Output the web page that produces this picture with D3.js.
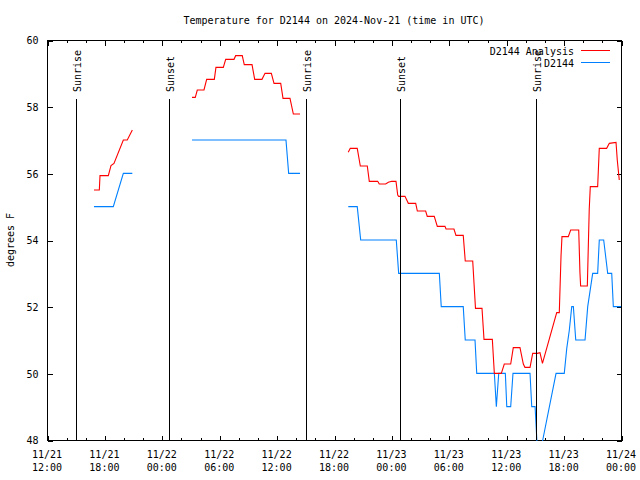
<!DOCTYPE html>
<html>
<head>
<meta charset="utf-8">
<script src="https://cdn.jsdelivr.net/npm/d3@7"></script>
<style>
  html, body { margin: 0; padding: 0; background: #fff; }
  svg { display: block; }
  text { font-family: "DejaVu Sans Mono", monospace; font-size: 10px; fill: #000; }
</style>
</head>
<body>
<svg id="chart" width="640" height="480"></svg>
<script>
// ---- DATA (time in hours since 2024-11-21 00:00 UTC, value in degrees F) ----
const chartTitle = "Temperature for D2144 on 2024-Nov-21 (time in UTC)";
const yLabel = "degrees F";
const seriesNames = ["D2144 Analysis", "D2144"];
const seriesColors = ["#ff0000", "#0080ff"];

// Analysis (red); null marks a gap
const analysisHours = [
  16.91, 17.47, 17.54, 18.41, 18.69, 19.00, 19.98, 20.39, 20.92, null,
  27.16, 27.50, 27.71, 28.41, 28.69, 29.49, 29.66, 30.43, 30.68, 31.55, 31.72, 32.41,
  32.62, 33.43, 33.71, 34.47, 34.79, 35.45, 35.73, 36.43, 36.67, 37.40, 37.75, 38.45, null,
  43.49, 43.70, 44.43, 44.75, 45.48, 45.69, 46.57, 46.73, 47.40, 47.68, 48.03, 48.48,
  48.66, 48.76, 49.42, 49.77, 50.54, 50.71, 51.58, 51.75, 52.48, 52.80, 53.60, 53.71,
  54.54, 54.75, 55.51, 55.72, 56.50, 56.79, 57.47, 57.68, 58.55, 58.76, 59.49, 59.80,
  60.47, 60.74, 61.44, 61.79, 61.96, 62.49, 62.77, 63.25, 63.53, 63.79, 65.28, 65.55,
  65.73, 65.83, 66.49, 66.74, 67.58, 67.71, 67.78, 68.48, 68.68, 68.79, 69.56, 69.73,
  70.50, 70.78, 71.48, 71.61, 71.82
];
const analysisValues = [
  55.5, 55.5, 55.93, 55.93, 56.23, 56.3, 57.0, 57.0, 57.3, null,
  58.28, 58.28, 58.5, 58.5, 58.82, 58.82, 59.18, 59.18, 59.42, 59.42, 59.53, 59.53,
  59.26, 59.26, 58.82, 58.82, 59.0, 59.0, 58.7, 58.7, 58.25, 58.25, 57.78, 57.78, null,
  56.63, 56.75, 56.75, 56.22, 56.22, 55.76, 55.76, 55.68, 55.68, 55.73, 55.76, 55.76,
  55.35, 55.31, 55.31, 55.1, 55.1, 54.87, 54.87, 54.71, 54.71, 54.41, 54.41, 54.33,
  54.33, 54.14, 54.14, 53.37, 53.37, 51.95, 51.95, 51.02, 51.02, 50.0, 50.0, 50.28,
  50.28, 50.77, 50.77, 50.28, 50.18, 50.18, 50.6, 50.6, 50.62, 50.3, 51.82, 51.82,
  53.52, 54.1, 54.1, 54.3, 54.3, 53.02, 52.62, 52.62, 54.92, 55.6, 55.6, 56.75,
  56.75, 56.9, 56.93, 56.4, 55.8
];

// Station observations (blue); null marks a gap
const stationHours = [
  16.91, 18.93, 19.98, 20.92, null,
  27.16, 36.98, 37.26, 38.45, null,
  43.49, 44.43, 44.79, 48.51, 48.76, 53.01, 53.21, 55.51, 55.72, 56.74, 56.92, 58.76,
  58.97, 59.22, 59.91, 60.06, 60.47, 60.71, 62.49, 62.67, 63.02, 63.33, 63.82, 65.21,
  66.07, 66.33, 66.60, 66.85, 67.02, 67.27, 68.24, 68.52, 69.04, 69.56, 69.73, 70.19,
  70.61, 71.03, 71.20, 72.00
];
const stationValues = [
  55.0, 55.0, 56.0, 56.0, null,
  57.0, 57.0, 56.0, 56.0, null,
  55.0, 55.0, 54.0, 54.0, 53.0, 53.0, 52.0, 52.0, 51.0, 51.0, 50.0, 50.0,
  49.0, 50.0, 50.0, 49.0, 49.0, 50.0, 50.0, 49.0, 49.0, 47.3, 48.0, 50.0,
  50.0, 50.75, 51.3, 52.0, 52.0, 51.0, 51.0, 52.0, 53.0, 53.0, 54.0, 54.0,
  53.0, 53.0, 52.0, 52.0
];

// Sun events
const sunHours = [15.03, 24.75, 39.07, 48.90, 63.11];
const sunLabels = ["Sunrise", "Sunset", "Sunrise", "Sunset", "Sunrise"];

// Axes
const xStartHour = 12, xEndHour = 72;
const yTicks = [48, 50, 52, 54, 56, 58, 60];

// ---- DRAW ----
const T0 = Date.UTC(2024, 10, 21, 0, 0);
const toDate = h => new Date(T0 + h * 3600e3);

const L = 47, R = 621, T = 40, B = 440;
const svg = d3.select("#chart");
svg.append("rect").attr("width", 640).attr("height", 480).attr("fill", "#fff");

const x = d3.scaleUtc().domain([toDate(xStartHour), toDate(xEndHour)]).range([L, R]);
const y = d3.scaleLinear().domain([48, 60]).range([B, T]);

const majors = d3.utcHour.every(6).range(toDate(xStartHour), toDate(xEndHour + 0.01));
const minors = d3.utcHour.every(2).range(toDate(xStartHour), toDate(xEndHour + 0.01))
  .filter(d => d.getUTCHours() % 6 !== 0);

function styleAxis(g) {
  g.select(".domain").remove();
  g.selectAll("line").attr("stroke", "#000").attr("shape-rendering", "crispEdges");
}

// bottom & top ticks
svg.append("g").attr("transform", `translate(0.5,${B + 0.5})`)
  .call(d3.axisBottom(x).tickValues(majors).tickSize(-5).tickFormat("")).call(styleAxis);
svg.append("g").attr("transform", `translate(0.5,${B + 0.5})`)
  .call(d3.axisBottom(x).tickValues(minors).tickSize(-2.5).tickFormat("")).call(styleAxis);
svg.append("g").attr("transform", `translate(0.5,${T + 0.5})`)
  .call(d3.axisTop(x).tickValues(majors).tickSize(-5).tickFormat("")).call(styleAxis);
svg.append("g").attr("transform", `translate(0.5,${T + 0.5})`)
  .call(d3.axisTop(x).tickValues(minors).tickSize(-2.5).tickFormat("")).call(styleAxis);

// y ticks left & right
const yAxisL = svg.append("g").attr("transform", `translate(${L + 0.5},0.5)`)
  .call(d3.axisLeft(y).tickValues(yTicks).tickSize(-5).tickPadding(9).tickFormat(d3.format("d")))
  .call(styleAxis);
yAxisL.selectAll("text").attr("font-family", null).attr("font-size", null).attr("fill", "#000");
svg.append("g").attr("transform", `translate(${R + 0.5},0.5)`)
  .call(d3.axisRight(y).tickValues(yTicks).tickSize(-5).tickFormat("")).call(styleAxis);

// x tick labels (two lines)
const fmtD = d3.utcFormat("%m/%d"), fmtT = d3.utcFormat("%H:%M");
const xl = svg.append("g").selectAll("text").data(majors).join("text")
  .attr("text-anchor", "middle")
  .attr("transform", d => `translate(${x(d)},0)`);
xl.append("tspan").attr("x", 0).attr("y", 458).text(d => fmtD(d));
xl.append("tspan").attr("x", 0).attr("y", 471).text(d => fmtT(d));

// border
svg.append("rect").attr("x", L + 0.5).attr("y", T + 0.5).attr("width", R - L).attr("height", B - T)
  .attr("fill", "none").attr("stroke", "#000").attr("shape-rendering", "crispEdges");

// clip
svg.append("clipPath").attr("id", "plotclip").append("rect")
  .attr("x", L).attr("y", T).attr("width", R - L + 1).attr("height", B - T + 1);

// data lines
const line = d3.line()
  .defined(d => d[0] != null && d[1] != null)
  .x(d => x(toDate(d[0])))
  .y(d => y(d[1]));

const analysisPts = analysisHours.map((h, i) => [h, analysisValues[i]]);
const stationPts = stationHours.map((h, i) => [h, stationValues[i]]);

const plot = svg.append("g").attr("clip-path", "url(#plotclip)");
plot.append("path").datum(stationPts).attr("d", line)
  .attr("fill", "none").attr("stroke", seriesColors[1]).attr("stroke-width", 1.1);
plot.append("path").datum(analysisPts).attr("d", line)
  .attr("fill", "none").attr("stroke", seriesColors[0]).attr("stroke-width", 1.1);

// sun lines and labels
const sun = svg.append("g").selectAll("g").data(sunHours.map((h, i) => ({ h, label: sunLabels[i] })))
  .join("g");
sun.append("line")
  .attr("x1", d => Math.round(x(toDate(d.h))) + 0.5)
  .attr("x2", d => Math.round(x(toDate(d.h))) + 0.5)
  .attr("y1", 99).attr("y2", B)
  .attr("stroke", "#000").attr("shape-rendering", "crispEdges");
sun.append("text")
  .attr("transform", d => `translate(${Math.round(x(toDate(d.h))) + 5},92) rotate(-90)`)
  .attr("text-anchor", "start")
  .text(d => d.label);

// title
svg.append("text").attr("x", (L + R) / 2).attr("y", 24).attr("text-anchor", "middle").text(chartTitle);

// y label
svg.append("text").attr("transform", `translate(14,${(T + B) / 2}) rotate(-90)`)
  .attr("text-anchor", "middle").text(yLabel);

// legend
const leg = svg.append("g").selectAll("g").data(seriesNames).join("g")
  .attr("transform", (d, i) => `translate(0,${50.5 + i * 12})`);
leg.append("text").attr("x", 574).attr("y", 4).attr("text-anchor", "end").text(d => d);
leg.append("line").attr("x1", 581).attr("x2", 610).attr("y1", 0).attr("y2", 0)
  .attr("stroke", (d, i) => seriesColors[i]).attr("stroke-width", 1)
  .attr("shape-rendering", "crispEdges");
</script>
</body>
</html>
